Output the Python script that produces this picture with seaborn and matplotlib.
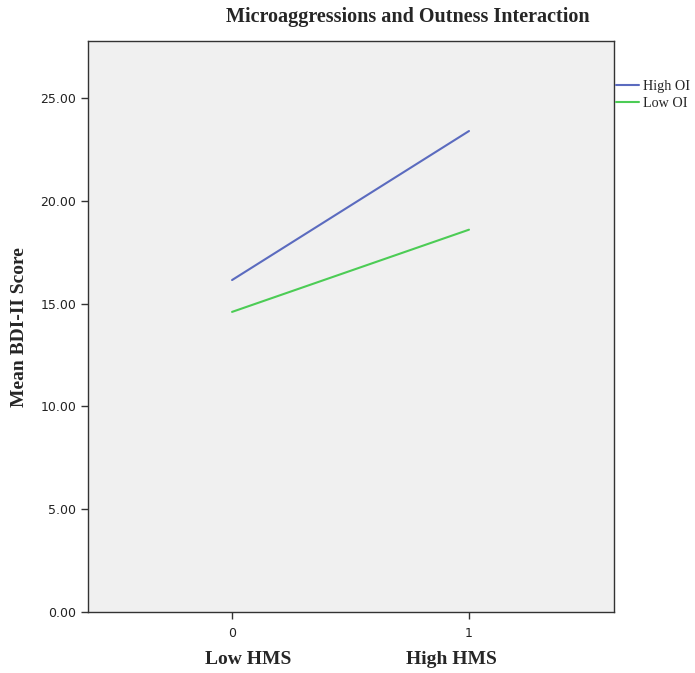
import numpy as np
import pandas as pd
import matplotlib.pyplot as plt
import seaborn as sns

# values
hms = [0, 1]
high_oi = [16.15, 23.4]
low_oi = [14.6, 18.6]
groups = ['High OI', 'Low OI']
y_ticks = [0, 5, 10, 15, 20, 25]

data = pd.DataFrame({
    'HMS': hms * 2,
    'BDI': high_oi + low_oi,
    'Group': [groups[0]] * 2 + [groups[1]] * 2,
})

sns.set_style('white')
fig = plt.figure(figsize=(6.95, 6.73), dpi=100)
ax = fig.add_axes([88/695, 1-612/673, (614-88)/695, (612-41)/673])
ax.set_facecolor('#f0f0f0')

sns.lineplot(data=data, x='HMS', y='BDI', hue='Group', palette=['#5b6bbf', '#4ccc55'],
             linewidth=1.5, ax=ax, legend=False)

ax.set_xlim(-0.608, 1.612)
ax.set_ylim(0, 27.78)
ax.set_xticks(hms)
ax.set_xticklabels(['0', '1'], fontsize=9, color='#222222')
ax.set_yticks(y_ticks)
ax.set_yticklabels([f'{v:.2f}' for v in y_ticks], fontsize=9, color='#222222')
ax.tick_params(axis='both', direction='out', length=5, width=1, color='#333333', bottom=True, left=True)
ax.tick_params(axis='x', pad=6)
ax.set_xlabel('')
ax.set_ylabel('')
for s in ax.spines.values():
    s.set_color('#333333')
    s.set_linewidth(1)

serif = 'Liberation Serif'
fig.text(408/695, 1-17/673, 'Microaggressions and Outness Interaction', ha='center', va='center',
         fontsize=14.5, fontweight='bold', family=serif)
fig.text(20/695, 1-327/673, 'Mean BDI-II Score', rotation=90, ha='center', va='center',
         fontsize=14, fontweight='bold', family=serif)
fig.text(248/695, 1-660/673, 'Low HMS', ha='center', va='center', fontsize=14, fontweight='bold', family=serif)
fig.text(451/695, 1-660/673, 'High HMS', ha='center', va='center', fontsize=14, fontweight='bold', family=serif)

handles = ax.get_lines()[:2]
leg = fig.legend(handles, groups, loc='upper left', bbox_to_anchor=(616/695, 1-80/673),
                 frameon=False, prop={'family': serif, 'size': 10.2}, handlelength=1.6,
                 handletextpad=0.3, labelspacing=0.25, borderaxespad=0, borderpad=0)

fig.savefig('out.png', dpi=100)
